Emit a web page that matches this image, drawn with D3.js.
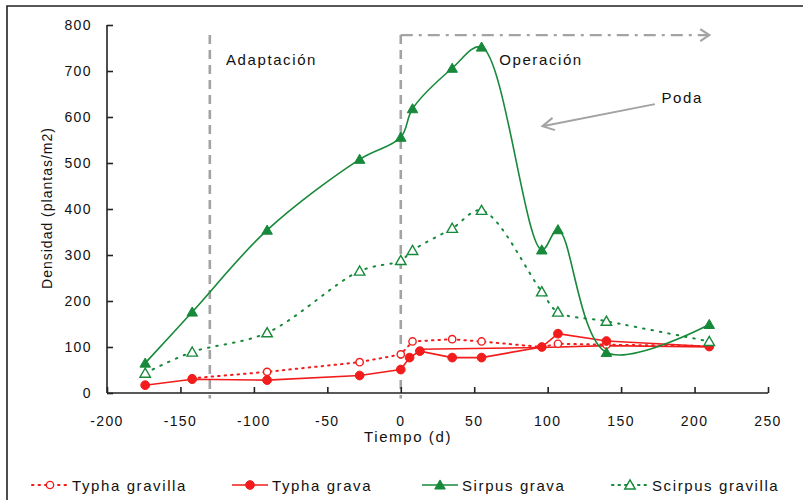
<!DOCTYPE html>
<html>
<head>
<meta charset="utf-8">
<script src="https://cdn.jsdelivr.net/npm/d3@7/dist/d3.min.js"></script>
<style>
  body { margin: 0; background: #fff; }
  svg text { font-family: "Liberation Sans", Arial, sans-serif; fill: #111; }
</style>
</head>
<body>
<svg id="chart" width="803" height="500"></svg>
<script>
// Plant density over time (days), per species and substrate
const xTicks = [-200, -150, -100, -50, 0, 50, 100, 150, 200, 250];
const yTicks = [0, 100, 200, 300, 400, 500, 600, 700, 800];

const typhaGravillaDays = [-142, -91, -28, 0, 8, 35, 55, 96, 107, 140, 210];
const typhaGravillaValues = [32, 46, 67, 84, 112, 117, 112, 100, 107, 105, 102];

const typhaGravaDays = [-174, -142, -91, -28, 0, 6, 13, 35, 55, 96, 107, 140, 210];
const typhaGravaValues = [17, 30, 28, 38, 51, 77, 91, 77, 77, 100, 129, 113, 101];

// second Typha grava trace (no markers)
const typhaGravaBDays = [13, 96, 140, 210];
const typhaGravaBValues = [95, 99, 103, 100];

const sirpusGravaDays = [-174, -142, -91, -28, 0, 8, 35, 55, 96, 107, 140, 210];
const sirpusGravaValues = [65, 176, 354, 508, 556, 618, 706, 752, 311, 355, 88, 149];

const scirpusGravillaDays = [-174, -142, -91, -28, 0, 8, 35, 55, 96, 107, 140, 210];
const scirpusGravillaValues = [43, 89, 131, 265, 288, 310, 358, 397, 220, 176, 156, 112];

const phases = ["Adaptación", "Operación"];
const seriesNames = ["Typha gravilla", "Typha grava", "Sirpus grava", "Scirpus gravilla"];

const RED = "#f21c1c", GREEN = "#17893a", GREY = "#a3a3a3";

const svg = d3.select("#chart");
const x = d3.scaleLinear().domain([-200, 250]).range([107, 768]);
const y = d3.scaleLinear().domain([0, 800]).range([393, 25]);

// outer frame
svg.append("path").attr("d", "M7,503 V6 H806")
  .attr("fill", "none").attr("stroke", "#222").attr("stroke-width", 1.6);

// phase markers
const phaseG = svg.append("g").attr("stroke", GREY).attr("fill", "none");
[-130, 0].forEach(d => {
  phaseG.append("line").attr("x1", x(d)).attr("x2", x(d))
    .attr("y1", y(778)).attr("y2", y(-12))
    .attr("stroke-width", 2.6).attr("stroke-dasharray", "9,6");
});
phaseG.append("line").attr("x1", x(0)).attr("x2", x(210))
  .attr("y1", y(778)).attr("y2", y(778))
  .attr("stroke-width", 2.2).attr("stroke-dasharray", "12,6,3,6");
phaseG.append("path")
  .attr("d", `M${x(210) - 9},${y(778) - 6} L${x(210)},${y(778)} L${x(210) - 9},${y(778) + 6}`)
  .attr("stroke-width", 2.2);

svg.append("text").attr("x", x(-119)).attr("y", y(724)).attr("dominant-baseline", "central")
  .style("font-size", "15px").style("letter-spacing", "1.6px").text(phases[0]);
svg.append("text").attr("x", x(67)).attr("y", y(724)).attr("dominant-baseline", "central")
  .style("font-size", "15px").style("letter-spacing", "1.6px").text(phases[1]);

// pruning annotation
const px0 = x(173), py0 = y(628), px1 = x(96.5), py1 = y(580);
svg.append("line").attr("x1", px0).attr("y1", py0).attr("x2", px1).attr("y2", py1)
  .attr("stroke", GREY).attr("stroke-width", 2);
{
  const ang = Math.atan2(py0 - py1, px0 - px1), L = 13, spread = 0.5;
  svg.append("path")
    .attr("d", `M${px1 + L * Math.cos(ang - spread)},${py1 + L * Math.sin(ang - spread)} L${px1},${py1} L${px1 + L * Math.cos(ang + spread)},${py1 + L * Math.sin(ang + spread)}`)
    .attr("fill", "none").attr("stroke", GREY).attr("stroke-width", 2);
}
svg.append("text").attr("x", x(177.5)).attr("y", y(642)).attr("dominant-baseline", "central")
  .style("font-size", "15px").style("letter-spacing", "1.6px").text("Poda");

// axes
const axisG = svg.append("g");
axisG.append("g").attr("transform", `translate(0,${y(0)})`)
  .call(d3.axisTop(x).tickValues(xTicks).tickSize(6).tickFormat(""))
  .call(g => g.select(".domain").attr("d", `M${x(-200)},0H${x(250)}`));
axisG.append("g").attr("transform", `translate(${x(-200)},0)`)
  .call(d3.axisRight(y).tickValues(yTicks).tickSize(6).tickFormat(""))
  .call(g => g.select(".domain").attr("d", `M0,${y(800)}V${y(0)}`));
axisG.selectAll("path, line").attr("stroke", "#222").attr("stroke-width", 1.6);

svg.append("g").selectAll("text").data(xTicks).join("text")
  .attr("x", d => x(d)).attr("y", 426).attr("text-anchor", "middle")
  .style("font-size", "14px").style("letter-spacing", "1.4px").text(d => d);
svg.append("g").selectAll("text").data(yTicks).join("text")
  .attr("x", 92).attr("y", d => y(d)).attr("text-anchor", "end").attr("dominant-baseline", "central")
  .style("font-size", "14px").style("letter-spacing", "1.4px").text(d => d);

svg.append("text").attr("x", 408).attr("y", 442).attr("text-anchor", "middle")
  .style("font-size", "15px").style("letter-spacing", "1.6px").text("Tiempo (d)");
svg.append("text").attr("transform", "translate(47,208) rotate(-90)")
  .attr("text-anchor", "middle").attr("dominant-baseline", "central")
  .style("font-size", "14px").style("letter-spacing", "1px").text("Densidad (plantas/m2)");

// series
const zip = (xs, ys) => xs.map((d, i) => [d, ys[i]]);
const lineLin = d3.line().x(d => x(d[0])).y(d => y(d[1]));
const lineSmooth = d3.line().x(d => x(d[0])).y(d => y(d[1])).curve(d3.curveCatmullRom.alpha(0.5));

const tri = d3.symbol().type(d3.symbolTriangle).size(48);
const circ = d3.symbol().type(d3.symbolCircle).size(60);
const circOpen = d3.symbol().type(d3.symbolCircle).size(42);

const series = [
  { name: seriesNames[0], data: zip(typhaGravillaDays, typhaGravillaValues), color: RED, dash: "1.5,5", gen: lineLin, sym: circOpen, filled: false },
  { name: seriesNames[1], data: zip(typhaGravaDays, typhaGravaValues), color: RED, dash: null, gen: lineLin, sym: circ, filled: true },
  { name: seriesNames[2], data: zip(sirpusGravaDays, sirpusGravaValues), color: GREEN, dash: null, gen: lineSmooth, sym: tri, filled: true },
  { name: seriesNames[3], data: zip(scirpusGravillaDays, scirpusGravillaValues), color: GREEN, dash: "1.5,7", gen: lineSmooth, sym: tri, filled: false }
];

const plot = svg.append("g");
plot.append("path").datum(zip(typhaGravaBDays, typhaGravaBValues))
  .attr("d", lineLin).attr("fill", "none").attr("stroke", RED).attr("stroke-width", 1.6);

series.forEach(s => {
  plot.append("path").datum(s.data).attr("d", s.gen)
    .attr("fill", "none").attr("stroke", s.color)
    .attr("stroke-width", s.dash ? 2 : 1.6)
    .attr("stroke-linecap", s.dash ? "round" : "butt")
    .attr("stroke-dasharray", s.dash);
});
series.forEach(s => {
  plot.append("g").selectAll("path").data(s.data).join("path")
    .attr("transform", d => `translate(${x(d[0])},${y(d[1]) + (s.sym === tri ? 1 : 0)})`)
    .attr("d", s.sym)
    .attr("fill", s.filled ? s.color : "#fff")
    .attr("stroke", s.color).attr("stroke-width", s.filled ? 1 : 1.4);
});

// legend
const legendX = [32, 232, 422, 612];
const lg = svg.append("g");
series.forEach((s, i) => {
  const g = lg.append("g").attr("transform", `translate(${legendX[i]},485)`);
  g.append("line").attr("x1", 0).attr("x2", 36).attr("y1", 0).attr("y2", 0)
    .attr("stroke", s.color).attr("stroke-width", s.dash ? 2 : 1.6)
    .attr("stroke-linecap", s.dash ? "round" : "butt")
    .attr("stroke-dasharray", s.dash ? "1.5,5" : null);
  g.append("path").attr("transform", `translate(18,${s.sym === tri ? 1 : 0})`).attr("d", s.sym)
    .attr("fill", s.filled ? s.color : "#fff").attr("stroke", s.color).attr("stroke-width", s.filled ? 1 : 1.4);
  g.append("text").attr("x", 40).attr("y", 0).attr("dominant-baseline", "central")
    .style("font-size", "15px").style("letter-spacing", "1.6px").text(s.name);
});
</script>
</body>
</html>
